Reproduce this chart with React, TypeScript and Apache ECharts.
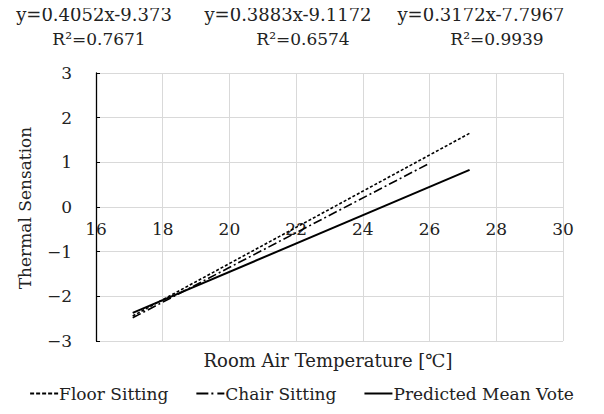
import React, { useEffect, useRef } from "react";
import * as echarts from "echarts";

const seriesNames = ["Floor Sitting", "Chair Sitting", "Predicted Mean Vote"];
const floorPoints = [[17.1, -2.44], [27.2, 1.65]];
const chairPoints = [[17.1, -2.48], [26.0, 0.98]];
const pmvPoints = [[17.1, -2.37], [27.2, 0.83]];
const equations = ["y=0.4052x-9.373", "y=0.3883x-9.1172", "y=0.3172x-7.7967"];
const rSquared = ["R²=0.7671", "R²=0.6574", "R²=0.9939"];
const xTitle = "Room Air Temperature [℃]";
const yTitle = "Thermal Sensation";

const FONT = "DejaVu Serif";
const TXT = "#222";

const legendIcons = [
  "path://M0,0h4v2h-4zM6,0h4v2h-4zM12,0h4v2h-4zM18,0h4v2h-4zM24,0h4v2h-4z",
  "path://M0,0h12v2h-12zM15,0h2v2h-2zM21,0h7v2h-7z",
  "path://M0,0h28v2h-28z",
];

export default function App() {
  const ref = useRef<HTMLDivElement>(null);
  useEffect(() => {
    if (!ref.current) return;
    const chart = echarts.init(ref.current, null, { renderer: "svg" });
    const eqX = [94, 288, 481];
    const rX = [99, 303, 497];
    const graphics: any[] = [];
    equations.forEach((t, i) => {
      graphics.push({
        type: "text", x: eqX[i], y: 14,
        style: { text: t, font: `18px "${FONT}"`, fill: TXT, align: "center", verticalAlign: "middle" },
      });
      graphics.push({
        type: "text", x: rX[i], y: 39,
        style: { text: rSquared[i], font: `17px "${FONT}"`, fill: TXT, align: "center", verticalAlign: "middle" },
      });
    });
    graphics.push({
      type: "text", x: 328, y: 360,
      style: { text: xTitle, font: `18px "${FONT}"`, fill: TXT, align: "center", verticalAlign: "middle" },
    });
    graphics.push({
      type: "text", x: 25, y: 208, rotation: Math.PI / 2,
      style: { text: yTitle, font: `17px "${FONT}"`, fill: TXT, align: "center", verticalAlign: "middle" },
    });
    chart.setOption({
      animation: false,
      textStyle: { fontFamily: FONT },
      grid: { left: 96, right: 41, top: 73, bottom: 73 },
      xAxis: {
        type: "value", min: 16, max: 30, interval: 2,
        offset: -134,
        axisLine: { show: true, onZero: false, lineStyle: { color: "#d9d9d9", width: 1 } },
        axisTick: { show: false },
        axisLabel: { margin: 13, fontSize: 17, color: TXT, fontFamily: FONT },
        splitLine: { show: true, lineStyle: { color: "#d9d9d9", width: 1 } },
      },
      yAxis: {
        type: "value", min: -3, max: 3, interval: 1,
        axisLine: { show: true, onZero: false, lineStyle: { color: "#000", width: 1.3 } },
        axisTick: { show: true, inside: true, length: 4, lineStyle: { color: "#000" } },
        axisLabel: {
          margin: 24, fontSize: 17, color: TXT, fontFamily: FONT,
          formatter: (v: number) => String(v).replace("-", "−"),
        },
        splitLine: { show: true, lineStyle: { color: "#d9d9d9", width: 1 } },
      },
      legend: {
        bottom: 7, left: "center", itemWidth: 28, itemHeight: 2, itemGap: 28,
        textStyle: { fontSize: 17, color: TXT, fontFamily: FONT, padding: [0, 0, 0, -4] },
        data: seriesNames.map((n, i) => ({ name: n, icon: legendIcons[i] })),
      },
      graphic: graphics,
      series: [
        {
          name: seriesNames[0], type: "line", data: floorPoints, symbol: "none",
          lineStyle: { color: "#000", width: 1.6, type: [3, 2] },
          itemStyle: { color: "#000" },
        },
        {
          name: seriesNames[1], type: "line", data: chairPoints, symbol: "none",
          lineStyle: { color: "#000", width: 1.6, type: [9, 3, 2, 3] },
          itemStyle: { color: "#000" },
        },
        {
          name: seriesNames[2], type: "line", data: pmvPoints, symbol: "none",
          lineStyle: { color: "#000", width: 2, type: "solid" },
          itemStyle: { color: "#000" },
        },
      ],
    });
    return () => chart.dispose();
  }, []);
  return <div ref={ref} style={{ width: 604, height: 414, margin: -8 }} />;
}
